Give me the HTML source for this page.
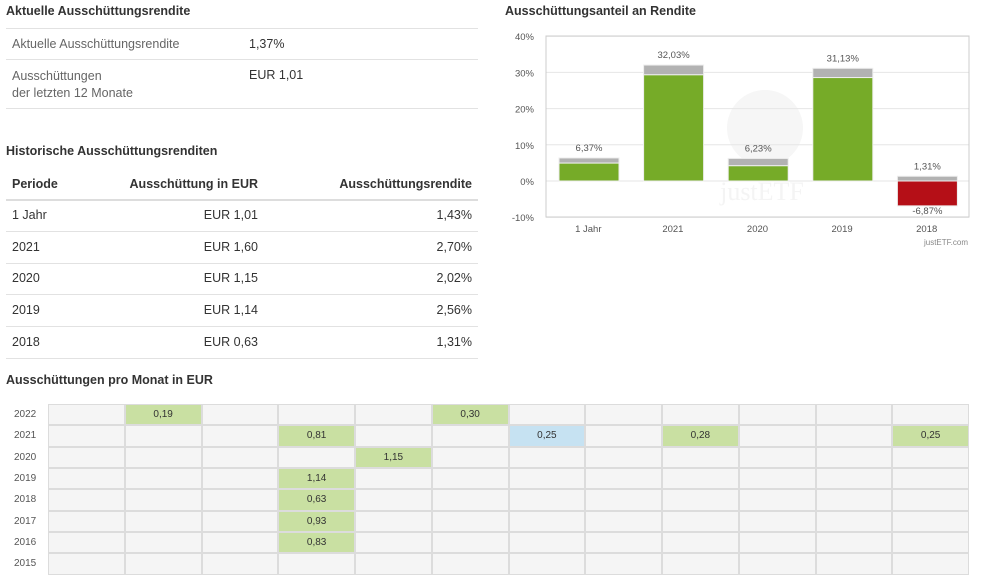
<!DOCTYPE html>
<html><head><meta charset="utf-8"><style>
body{margin:0;width:1000px;height:564px;overflow:hidden;background:#fff;font-family:"Liberation Sans",sans-serif;color:#333;position:relative}
.a{position:absolute;white-space:nowrap}
.t{font-weight:bold;font-size:12.5px;color:#333}
.f{font-size:12.5px}
.g{color:#666}
.ln{position:absolute;left:6px;width:472px;height:1px;background:#e2e2e2}
.r{text-align:right}
</style></head><body>
<div class="a t" style="left:6px;top:4px">Aktuelle Ausschüttungsrendite</div>
<div class="ln" style="top:28px"></div>
<div class="a f g" style="left:12px;top:37px">Aktuelle Ausschüttungsrendite</div>
<div class="a f" style="left:249px;top:37px">1,37%</div>
<div class="ln" style="top:59px"></div>
<div class="a f g" style="left:12px;top:68px;line-height:17px">Ausschüttungen<br>der letzten 12 Monate</div>
<div class="a f" style="left:249px;top:68px">EUR 1,01</div>
<div class="ln" style="top:108px"></div>

<div class="a t" style="left:6px;top:144px">Historische Ausschüttungsrenditen</div>
<div class="a t" style="left:12px;top:177px">Periode</div>
<div class="a t r" style="left:100px;width:158px;top:177px">Ausschüttung in EUR</div>
<div class="a t r" style="left:300px;width:172px;top:177px">Ausschüttungsrendite</div>
<div class="ln" style="top:199px;height:2px;background:#ddd"></div>
<div id="hist"></div>

<div class="a t" style="left:505px;top:4px">Ausschüttungsanteil an Rendite</div>
<svg class="a" style="left:0;top:0" width="1000" height="260" id="chart"></svg>

<div class="a t" style="left:6px;top:373px">Ausschüttungen pro Monat in EUR</div>
<div id="grid"></div>

<script>
var histPeriods=["1 Jahr","2021","2020","2019","2018"];
var histAmounts=["EUR 1,01","EUR 1,60","EUR 1,15","EUR 1,14","EUR 0,63"];
var histYields=["1,43%","2,70%","2,02%","2,56%","1,31%"];
var h=document.getElementById('hist');
histPeriods.forEach(function(p,i){
  var y=200+i*31.7;
  var d=document.createElement('div');d.className='a f';d.style.left='12px';d.style.top=(y+8)+'px';d.textContent=p;
  
  h.appendChild(d);
  d=document.createElement('div');d.className='a f r';d.style.left='100px';d.style.width='158px';d.style.top=(y+8)+'px';d.textContent=histAmounts[i];
  
  h.appendChild(d);
  d=document.createElement('div');d.className='a f r';d.style.left='300px';d.style.width='172px';d.style.top=(y+8)+'px';d.textContent=histYields[i];
  
  h.appendChild(d);
  d=document.createElement('div');d.className='ln';d.style.top=(y+31)+'px';
  
  h.appendChild(d);
});

var cats=["1 Jahr","2021","2020","2019","2018"];
var totals=[6.37,32.03,6.23,31.13,-6.87];
var dists=[1.43,2.70,2.02,2.56,1.31];
var yTicks=[40,30,20,10,0,-10];
var svg=document.getElementById('chart');var NS='http://www.w3.org/2000/svg';
var X0=546,X1=969,Ytop=36,Ybot=217;
function Y(v){return 181-v*3.62;}
function el(t,a,txt){var e=document.createElementNS(NS,t);for(var k in a)e.setAttribute(k,a[k]);if(txt!=null)e.textContent=txt;svg.appendChild(e);return e;}
var w=el('circle',{cx:765,cy:128,r:38,fill:'#f6f6f6'});
var wt=el('text',{x:762,y:200,'font-size':'26','font-family':'Liberation Serif',fill:'#f4f4f4','text-anchor':'middle'},'justETF');
yTicks.forEach(function(t){
  var l=el('line',{x1:X0,x2:X1,y1:Y(t),y2:Y(t),stroke:'#e6e6e6'});
  
  var tx=el('text',{x:534,y:Y(t)+4,'font-size':'9.5',fill:'#555','text-anchor':'end'},t+'%');
  
});
var bx=el('rect',{x:X0,y:Ytop,width:X1-X0,height:Ybot-Ytop,fill:'none',stroke:'#ccc'});
var cw=(X1-X0)/cats.length;
cats.forEach(function(c,i){
  var x=X0+i*cw+13,bw=60,t=totals[i],d=dists[i];
  if(t>=0){
    var g=el('rect',{x:x,y:Y(t),width:bw,height:Y(t-d)-Y(t),fill:'#b2b2b2',stroke:'#eee'});
    
    var gr=el('rect',{x:x,y:Y(t-d),width:bw,height:Y(0)-Y(t-d),fill:'#76ab28',stroke:'#eee'});
    
    var lb=el('text',{x:x+bw/2,y:Y(t)-7,'font-size':'9.5',fill:'#555','text-anchor':'middle'},t.toFixed(2).replace('.',',')+'%');
    
  } else {
    var g2=el('rect',{x:x,y:Y(d),width:bw,height:Y(0)-Y(d),fill:'#b2b2b2',stroke:'#eee'});
    
    var r=el('rect',{x:x,y:Y(0),width:bw,height:Y(t)-Y(0),fill:'#b50f17',stroke:'#eee'});
    
    var l1=el('text',{x:x+bw/2,y:Y(d)-7,'font-size':'9.5',fill:'#555','text-anchor':'middle'},d.toFixed(2).replace('.',',')+'%');
    
    var l2=el('text',{x:x+bw/2,y:Y(t)+8,'font-size':'9.5',fill:'#555','text-anchor':'middle'},t.toFixed(2).replace('.',',')+'%');
    
  }
  var xl=el('text',{x:X0+i*cw+cw/2,y:232,'font-size':'9.5',fill:'#555','text-anchor':'middle'},c);
  
});
var cr=el('text',{x:968,y:245,'font-size':'8',fill:'#888','text-anchor':'end'},'justETF.com');

var years=["2022","2021","2020","2019","2018","2017","2016","2015"];
var payouts=[
 [null,"0,19",null,null,null,"0,30",null,null,null,null,null,null],
 [null,null,null,"0,81",null,null,"0,25",null,"0,28",null,null,"0,25"],
 [null,null,null,null,"1,15",null,null,null,null,null,null,null],
 [null,null,null,"1,14",null,null,null,null,null,null,null,null],
 [null,null,null,"0,63",null,null,null,null,null,null,null,null],
 [null,null,null,"0,93",null,null,null,null,null,null,null,null],
 [null,null,null,"0,83",null,null,null,null,null,null,null,null],
 [null,null,null,null,null,null,null,null,null,null,null,null]];
var blueCells=["1-6"];
var gd=document.getElementById('grid');
var GX=48,GW=921/12,GY=404,GH=21.35;
years.forEach(function(yr,r){
  var y=GY+r*GH;
  var l=document.createElement('div');l.className='a';l.style.cssText='left:14px;top:'+(y+5)+'px;font-size:10px;color:#555';l.textContent=yr;
  
  gd.appendChild(l);
  for(var c=0;c<12;c++){
    var v=payouts[r][c];
    var d=document.createElement('div');d.className='a';
    var bg=v?(blueCells.indexOf(r+'-'+c)>=0?'#c6e2f2':'#c9e0a2'):'#f5f5f5';
    d.style.cssText='left:'+(GX+c*GW)+'px;top:'+y+'px;width:'+GW+'px;height:'+GH+'px;box-sizing:border-box;border:1px solid #dcdcdc;background:'+bg+';font-size:10px;color:#333;text-align:center;line-height:'+(GH-2)+'px';
    if(v)d.textContent=v;
    
    gd.appendChild(d);
  }
});
</script>
</body></html>
